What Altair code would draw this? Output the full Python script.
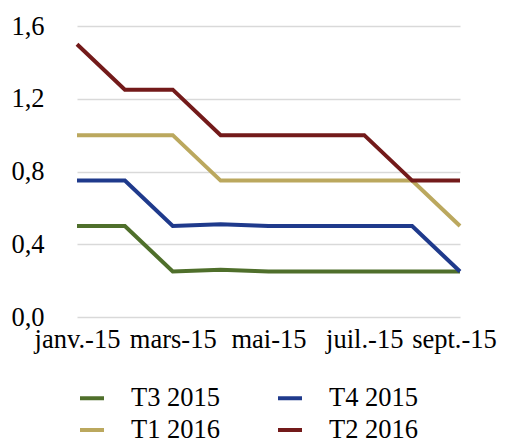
import altair as alt
import pandas as pd

months = ["janv.-15", "févr.-15", "mars-15", "avr.-15", "mai-15",
          "juin-15", "juil.-15", "août-15", "sept.-15"]
series_names = ["T3 2015", "T4 2015", "T1 2016", "T2 2016"]
t3_2015 = [0.5, 0.5, 0.25, 0.26, 0.25, 0.25, 0.25, 0.25, 0.25]
t4_2015 = [0.75, 0.75, 0.5, 0.51, 0.5, 0.5, 0.5, 0.5, 0.25]
t1_2016 = [1.0, 1.0, 1.0, 0.75, 0.75, 0.75, 0.75, 0.75, 0.5]
t2_2016 = [1.5, 1.25, 1.25, 1.0, 1.0, 1.0, 1.0, 0.75, 0.75]
colors = ["#4F6F2B", "#1F3A8C", "#BBA85E", "#731A1A"]
y_ticks = [0, 0.4, 0.8, 1.2, 1.6]
x_ticks = ["janv.-15", "mars-15", "mai-15", "juil.-15", "sept.-15"]

rows = []
for name, vals in zip(series_names, [t3_2015, t4_2015, t1_2016, t2_2016]):
    for m, v in zip(months, vals):
        rows.append({"mois": m, "valeur": v, "serie": name})
df = pd.DataFrame(rows)

FONT = "Liberation Serif"
FS = 26.5

chart = alt.Chart(df).mark_line(strokeWidth=4, strokeJoin="miter").encode(
    x=alt.X("mois:N", sort=months,
            scale=alt.Scale(type="point", padding=0),
            axis=alt.Axis(values=x_ticks, title=None, labelAngle=0, domain=False,
                          ticks=False, labelPadding=9, labelFont=FONT,
                          labelFontSize=FS, labelColor="#000", grid=False,
                          labelOverlap=False,
                          labelOffset=alt.condition("datum.value == 'sept.-15'",
                                                    alt.value(-6), alt.value(0)))),
    y=alt.Y("valeur:Q", scale=alt.Scale(domain=[0, 1.6], nice=False),
            axis=alt.Axis(values=y_ticks, title=None, domain=False, ticks=False,
                          labelPadding=33, labelFont=FONT, labelFontSize=FS,
                          labelColor="#000",
                          labelExpr="replace(format(datum.value, '.1f'), '.', ',')",
                          gridColor="#d9d9d9", gridWidth=1.5)),
    color=alt.Color("serie:N", sort=series_names,
                    scale=alt.Scale(domain=series_names, range=colors),
                    legend=alt.Legend(title=None, orient="none", legendX=1, legendY=358,
                                      direction="horizontal",
                                      columns=2, symbolType="stroke",
                                      symbolStrokeWidth=4, symbolSize=576,
                                      labelOffset=25, columnPadding=49,
                                      rowPadding=4, labelFont=FONT,
                                      labelFontSize=FS, labelColor="#000")),
).properties(
    width=383, height=291,
    autosize=alt.AutoSizeParams(type="none"),
    padding={"left": 69, "top": 18, "right": 37, "bottom": 122},
).configure_view(stroke=None)

chart.save("out.html", embed_options={"renderer": "svg", "actions": False})
